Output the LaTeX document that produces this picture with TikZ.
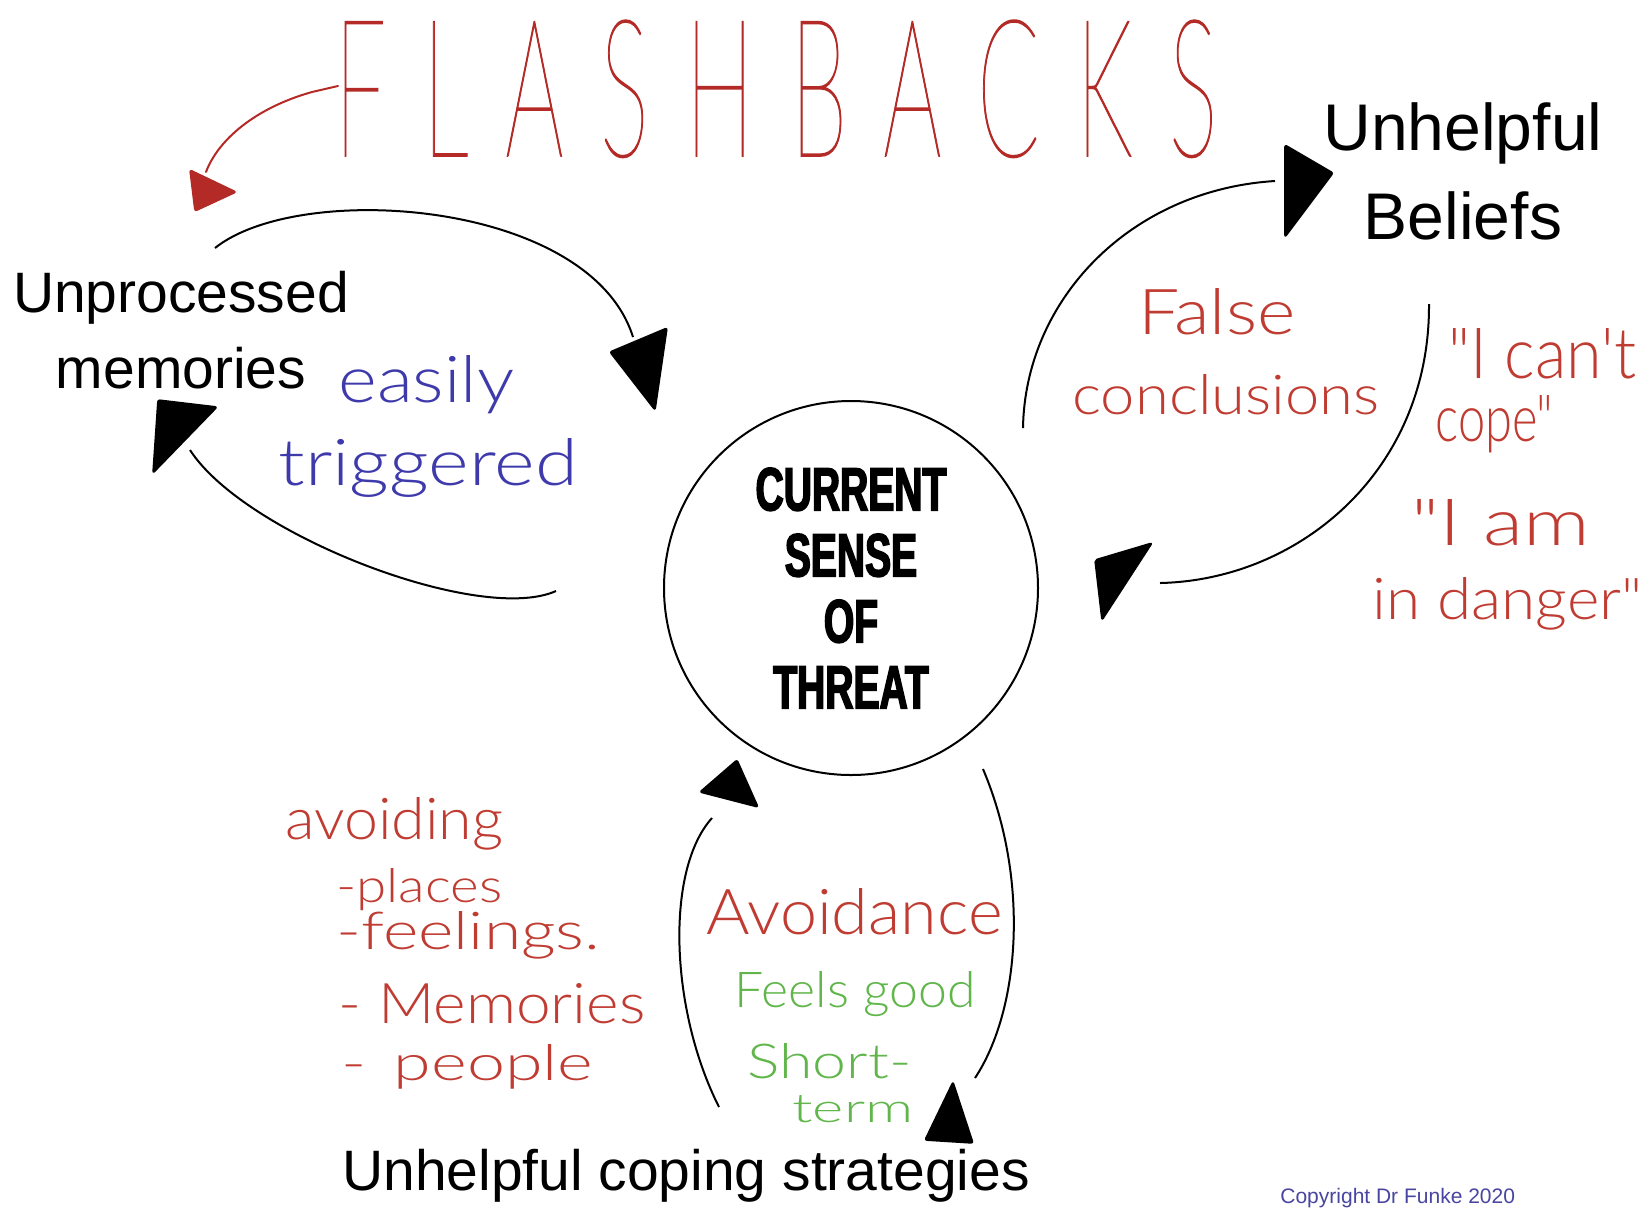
\documentclass[tikz,border=0pt]{standalone}
\usepackage{fontspec}
\usepackage{graphicx}
\setmainfont{Liberation Sans}
\IfFontExistsTF{Lato Light}{\newfontfamily\handfont{Lato Light}}{\newfontfamily\handfont{Lato}}
\IfFontExistsTF{Lato Hairline}{\newfontfamily\flashfont{Lato Hairline}[FakeBold=0.8]}{\newfontfamily\flashfont{Lato}}
\newfontfamily\threatfont{Liberation Sans}[FakeStretch=0.64, BoldFeatures={FakeBold=2.5}]

\definecolor{flashred}{RGB}{180,42,38}
\definecolor{handred}{RGB}{192,60,50}
\definecolor{handblue}{RGB}{62,58,172}
\definecolor{handgreen}{RGB}{96,182,74}
\definecolor{copyblue}{RGB}{72,70,160}

% one drawing unit = 0.5pt
\newdimen\upx \upx=0.5pt
% handwritten label fitted to a given width and height
\newcommand\hw[3]{\resizebox{#1\upx}{#2\upx}{\handfont #3}}

\tikzset{
  loopline/.style={draw=black, line width=1pt},
  head/.style={fill=black, draw=black, line width=0.8pt, line join=round, rounded corners=1pt},
  redhead/.style={fill=flashred, draw=flashred, line width=0.8pt, line join=round, rounded corners=1pt},
  hand/.style={inner sep=0pt, anchor=base west},
  sans/.style={inner sep=0pt, anchor=base, font=\fontsize{28.5pt}{30pt}\selectfont},
  bigsans/.style={inner sep=0pt, anchor=base, font=\fontsize{33pt}{36pt}\selectfont},
}

\begin{document}
\begin{tikzpicture}[x=0.5pt, y=-0.5pt]
\useasboundingbox[fill=white] (0,0) rectangle (1645,1207);

% title
\node[inner sep=0pt, anchor=south west, text=flashred] (flash) at (334,158)
  {\resizebox{883\upx}{136\upx}{\flashfont\addfontfeature{LetterSpace=40}FLASHBACKS}};

% central circle
\node[draw, circle, line width=1pt, minimum size=374\upx, inner sep=0pt, align=center,
      font={\threatfont\bfseries\fontsize{30.5pt}{33pt}\selectfont}] (threat) at (851,588)
  {CURRENT\\SENSE\\OF\\THREAT};

% main labels
\node[sans] (unproc) at (181,312) {Unprocessed};
\node[sans] (memo) at (181,388) {memories};
\node[bigsans] (unhelp) at (1463,150) {Unhelpful};
\node[bigsans] (belief) at (1463,239) {Beliefs};
\node[sans] (coping) at (686,1190) {Unhelpful coping strategies};
\node[inner sep=0pt, anchor=base west, text=copyblue, font=\fontsize{10.5pt}{12pt}\selectfont]
  (copy) at (1280,1203) {Copyright Dr Funke 2020};

% handwritten notes
\node[hand, text=handblue] (easily) at (338,402) {\hw{176}{47}{easily}};
\node[hand, text=handblue] (trig) at (278,485) {\hw{299}{47}{triggered}};
\node[hand, text=handred] (false) at (1138,334) {\hw{157}{46}{False}};
\node[hand, text=handred] (concl) at (1072,414) {\hw{307}{40}{conclusions}};
\node[hand, text=handred] (cant) at (1448,378) {\hw{188}{50}{"I can't}};
\node[hand, text=handred] (cope) at (1435,441) {\hw{118}{46}{cope"}};
\node[hand, text=handred] (iam) at (1411,545) {\hw{179}{46}{"I am}};
\node[hand, text=handred] (danger) at (1372,619) {\hw{270}{42}{in danger"}};
\node[hand, text=handred] (avoiding) at (285,839) {\hw{218}{42}{avoiding}};
\node[hand, text=handred] (places) at (336,902) {\hw{166}{34}{-places}};
\node[hand, text=handred] (feel) at (336,949) {\hw{264}{38}{-feelings.}};
\node[hand, text=handred] (mems) at (338,1023) {\hw{307}{40}{- Memories}};
\node[hand, text=handred] (people) at (341,1080) {\hw{252}{36}{-\hspace{0.4em}people}};
\node[hand, text=handred] (avoid) at (706,934) {\hw{296}{46}{Avoidance}};
\node[hand, text=handgreen] (good) at (734,1007) {\hw{241}{36}{Feels good}};
\node[hand, text=handgreen] (short) at (747,1078) {\hw{164}{35}{Short-}};
\node[hand, text=handgreen] (term) at (792,1122) {\hw{121}{27}{term}};

% loop ends
\coordinate (fa) at (338,86);
\coordinate (fb) at (206,172);
\coordinate (l1a) at (215,248);
\coordinate (l1b) at (633,337);
\coordinate (l2a) at (556,591);
\coordinate (l2b) at (190,450);
\coordinate (r1a) at (1023,428);
\coordinate (r1b) at (1275,181);
\coordinate (r2a) at (1429,304);
\coordinate (r2b) at (1160,583);
\coordinate (b1a) at (719,1107);
\coordinate (b1b) at (712,818);
\coordinate (b2a) at (983,769);
\coordinate (b2b) at (975,1078);

% flashback arrow
\draw[flashred, line width=1pt, line cap=round] (fa) -- (312,92) .. controls (255,108) and (218,140) .. (fb);
\path[redhead] (190,170) -- (236,192) -- (195,211) -- cycle;

% memories loop
\draw[loopline] (l1a) .. controls (300,180) and (590,200) .. (l1b);
\path[head] (610,352) -- (667,328) -- (655,410) -- cycle;
\draw[loopline] (l2a) .. controls (480,625) and (245,535) .. (l2b);
\path[head] (158,400) -- (217,407) -- (153,473) -- cycle;

% beliefs loop
\draw[loopline] (r1a) .. controls (1025,300) and (1130,190) .. (r1b);
\path[head] (1285,145) -- (1333,173) -- (1285,237) -- cycle;
\draw[loopline] (r2a) .. controls (1430,470) and (1300,580) .. (r2b);
\path[head] (1095,560) -- (1152,543) -- (1102,620) -- cycle;

% coping loop
\draw[loopline] (b1a) .. controls (670,1010) and (665,870) .. (b1b);
\path[head] (700,792) -- (737,760) -- (758,807) -- cycle;
\draw[loopline] (b2a) .. controls (1030,880) and (1020,1010) .. (b2b);
\path[head] (953,1082) -- (925,1140) -- (973,1143) -- cycle;
\end{tikzpicture}
\end{document}
